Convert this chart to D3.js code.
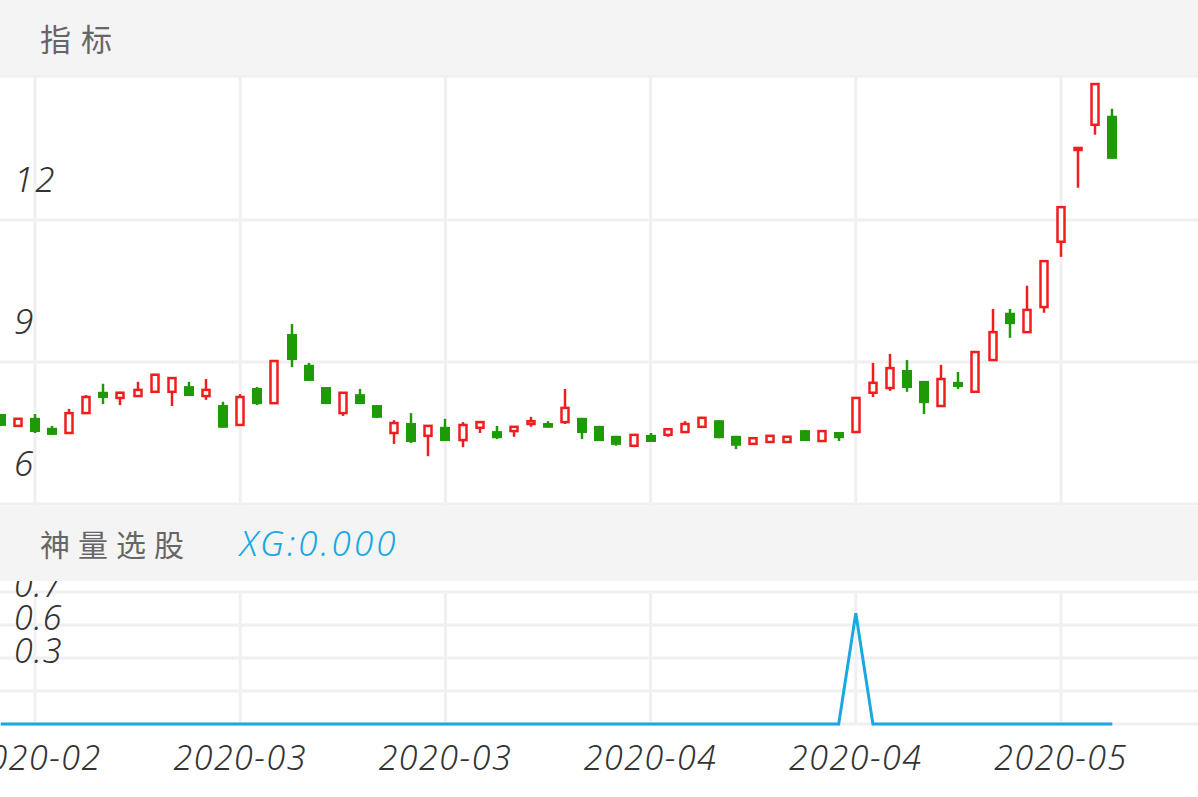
<!DOCTYPE html>
<html><head><meta charset="utf-8">
<script src="https://cdn.jsdelivr.net/npm/d3@7"></script>
<style>
html,body{margin:0;padding:0;background:#fff;}
svg{display:block;}
</style></head>
<body>
<svg id="c" width="1198" height="797"></svg>
<script>
// ---- data ----
const candleIndex = d3.range(-2, 64);
const openV  = [7.90,7.65,7.82,7.61,7.50,7.92,8.37,8.24,8.28,8.37,8.37,8.49,8.28,8.09,7.67,8.45,8.13,9.59,8.94,8.47,7.92,8.32,8.09,7.50,7.71,7.44,7.63,7.35,7.61,7.54,7.54,7.69,7.71,7.73,7.82,7.65,7.44,7.23,7.46,7.46,7.52,7.63,7.77,7.44,7.27,7.31,7.31,7.56,7.33,7.52,7.52,8.35,8.45,8.83,8.60,8.07,8.58,8.37,9.04,10.04,9.63,10.16,11.54,13.48,14.01,14.20];
const closeV = [7.65,7.80,7.52,7.46,7.92,8.26,8.24,8.35,8.41,8.73,8.66,8.28,8.41,7.61,8.26,8.11,9.02,9.04,8.60,8.11,8.35,8.11,7.82,7.71,7.31,7.65,7.33,7.67,7.73,7.39,7.63,7.75,7.61,8.03,7.50,7.33,7.25,7.46,7.31,7.58,7.69,7.82,7.39,7.23,7.39,7.44,7.42,7.33,7.54,7.39,8.24,8.56,8.87,8.45,8.13,8.64,8.47,9.21,9.63,9.80,10.10,11.13,12.27,13.52,14.87,13.29];
const highV  = [7.90,7.80,7.90,7.65,8.01,8.30,8.54,8.37,8.58,8.75,8.68,8.58,8.64,8.16,8.32,8.47,9.02,9.80,8.98,8.47,8.35,8.43,8.09,7.77,7.92,7.65,7.80,7.73,7.75,7.65,7.63,7.84,7.75,8.43,7.82,7.65,7.44,7.46,7.50,7.58,7.75,7.84,7.77,7.44,7.39,7.44,7.42,7.56,7.54,7.52,8.24,8.98,9.17,9.04,8.60,8.94,8.79,9.23,10.12,10.12,10.61,11.13,12.27,13.52,14.87,14.35];
const lowV   = [7.65,7.65,7.50,7.46,7.50,7.90,8.11,8.09,8.28,8.37,8.07,8.28,8.20,7.61,7.67,8.09,8.13,8.89,8.60,8.11,7.86,8.11,7.82,7.27,7.29,7.01,7.33,7.20,7.50,7.37,7.42,7.63,7.61,7.69,7.37,7.33,7.23,7.20,7.31,7.42,7.50,7.61,7.39,7.16,7.27,7.31,7.29,7.33,7.33,7.33,7.52,8.26,8.39,8.37,7.90,8.07,8.43,8.35,9.04,9.51,9.63,10.04,11.22,12.68,13.80,13.29];
const xgV    = [0,0,0,0,0,0,0,0,0,0,0,0,0,0,0,0,0,0,0,0,0,0,0,0,0,0,0,0,0,0,0,0,0,0,0,0,0,0,0,0,0,0,0,0,0,0,0,0,0,0,0.84,0,0,0,0,0,0,0,0,0,0,0,0,0,0,0];
const xTickIndex  = [0,12,24,36,48,60];
const xTickLabels = ["2020-02","2020-03","2020-03","2020-04","2020-04","2020-05"];
const priceTicks = [6,9,12];
const priceTickLabels = ["6","9","12"];
const xgGrid = [0,0.25,0.5,0.75,1];
const xgTickLabels = ["","","0.3","0.6","0.7"];
const title1 = "指标";
const title2 = "神量选股";
const xgLabel = "XG:0.000";

// ---- layout ----
const W = 1198, H = 797;
const svg = d3.select("#c");
const x = d3.scaleLinear().domain([0,60]).range([35,1061]);
const y = d3.scaleLinear().domain([6,15.04]).range([504,76]);
const y2 = d3.scaleLinear().domain([0,1]).range([724,592]);
const gridC = "#f0f0f2", red = "#f01d1d", green = "#1d9a05", blue = "#18a9e2";
const numFont = "'Noto Sans', 'DejaVu Sans', sans-serif";
const cjkFont = "'Noto Sans CJK SC', sans-serif";
const txtC = "#333";

svg.append("rect").attr("width",W).attr("height",H).attr("fill","#fff");

// main grid
const gMain = svg.append("g");
gMain.selectAll("line.h").data(priceTicks.concat([15.04])).enter().append("line")
  .attr("x1",0).attr("x2",W).attr("y1",d=>y(d)).attr("y2",d=>y(d))
  .attr("stroke",gridC).attr("stroke-width",3);
gMain.selectAll("line.v").data(xTickIndex).enter().append("line")
  .attr("x1",d=>x(d)).attr("x2",d=>x(d)).attr("y1",76).attr("y2",506)
  .attr("stroke",gridC).attr("stroke-width",3);

// candles
const candles = candleIndex.map((k,i)=>({k, o:openV[i], c:closeV[i], h:highV[i], l:lowV[i]}));
const cw = 9;
const cg = svg.append("g");
candles.forEach(d=>{
  const up = d.c >= d.o;
  const col = up ? red : green;
  const cx = Math.round(x(d.k));
  const top = y(Math.max(d.o,d.c)), bot = y(Math.min(d.o,d.c));
  if (up) {
    cg.append("line").attr("x1",cx).attr("x2",cx).attr("y1",y(d.h)).attr("y2",top)
      .attr("stroke",col).attr("stroke-width",2.5);
    cg.append("line").attr("x1",cx).attr("x2",cx).attr("y1",bot).attr("y2",y(d.l))
      .attr("stroke",col).attr("stroke-width",2.5);
    const hgt = Math.max(bot-top, 2);
    cg.append("rect").attr("x",cx-cw/2+1).attr("y",top).attr("width",cw-2).attr("height",Math.max(hgt,1))
      .attr("fill","#fff").attr("stroke",col).attr("stroke-width",2.5);
  } else {
    cg.append("line").attr("x1",cx).attr("x2",cx).attr("y1",y(d.h)).attr("y2",y(d.l))
      .attr("stroke",col).attr("stroke-width",2.5);
    cg.append("rect").attr("x",cx-cw/2-0.5).attr("y",top).attr("width",cw+1).attr("height",Math.max(bot-top,2))
      .attr("fill",col);
  }
});

// price labels
svg.selectAll("text.pl").data(priceTicks).enter().append("text")
  .attr("x",14).attr("y",d=>y(d)-28).text((d,i)=>priceTickLabels[i])
  .attr("font-family",numFont).attr("font-style","italic").attr("font-weight",300).attr("font-size",35)
  .attr("letter-spacing",2).attr("fill",txtC);

// lower panel grid
const gLow = svg.append("g");
gLow.selectAll("line").data(xgGrid).enter().append("line")
  .attr("x1",0).attr("x2",W).attr("y1",d=>y2(d)).attr("y2",d=>y2(d))
  .attr("stroke",gridC).attr("stroke-width",3);
gLow.selectAll("line.v").data(xTickIndex).enter().append("line")
  .attr("x1",d=>x(d)).attr("x2",d=>x(d)).attr("y1",y2(1)).attr("y2",y2(0))
  .attr("stroke",gridC).attr("stroke-width",3);

// xg labels
svg.selectAll("text.xl").data(xgGrid).enter().append("text")
  .attr("x",14).attr("y",d=>y2(d)+5).text((d,i)=>xgTickLabels[i])
  .attr("font-family",numFont).attr("font-style","italic").attr("font-weight",300).attr("font-size",34)
  .attr("letter-spacing",1).attr("fill",txtC);

// xg line
const line = d3.line().x((d,i)=>x(candleIndex[i])).y(d=>y2(d));
svg.append("path").datum(xgV).attr("d",line).attr("fill","none")
  .attr("stroke",blue).attr("stroke-width",3);

// header bands
svg.append("rect").attr("x",0).attr("y",0).attr("width",W).attr("height",75).attr("fill","#f4f4f4");
svg.append("rect").attr("x",0).attr("y",506).attr("width",W).attr("height",75).attr("fill","#f4f4f4");
svg.append("text").attr("x",40).attr("y",51).text(title1)
  .attr("font-family",cjkFont).attr("font-size",31).attr("letter-spacing",10).attr("fill","#666");
svg.append("text").attr("x",40).attr("y",556).text(title2)
  .attr("font-family",cjkFont).attr("font-size",30).attr("letter-spacing",8).attr("fill","#666");
svg.append("text").attr("x",240).attr("y",556).text(xgLabel)
  .attr("font-family",numFont).attr("font-style","italic").attr("font-weight",300).attr("font-size",35).attr("letter-spacing",3)
  .attr("fill",blue);

// x axis labels
svg.selectAll("text.xt").data(xTickIndex).enter().append("text")
  .attr("x",d=>x(d)).attr("y",770).attr("text-anchor","middle").text((d,i)=>xTickLabels[i])
  .attr("font-family",numFont).attr("font-style","italic").attr("font-weight",300).attr("font-size",34)
  .attr("letter-spacing",1.5).attr("fill",txtC);
</script>
</body></html>
